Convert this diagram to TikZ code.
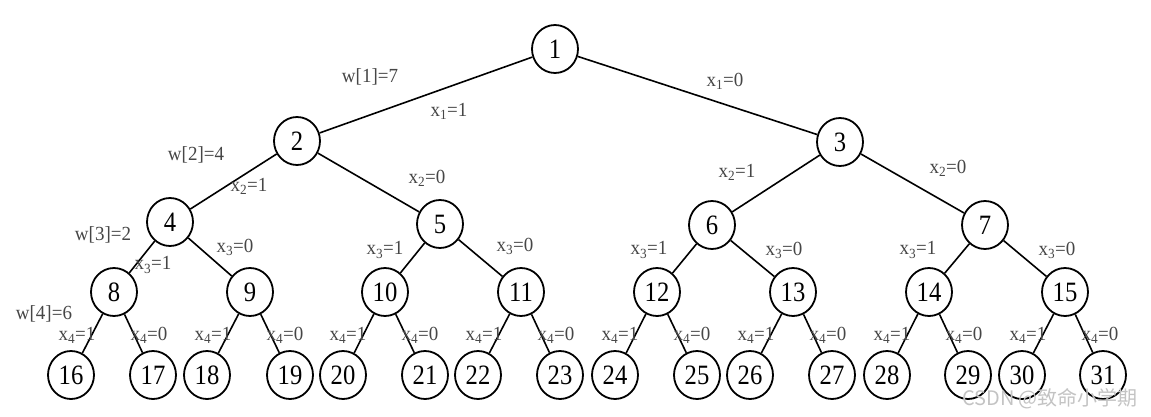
\documentclass[tikz,border=0pt]{standalone}
\usepackage{fontspec}
\usetikzlibrary{shapes.geometric}
\setmainfont{Liberation Serif}
\newfontfamily\numfont[FakeStretch=0.88]{Liberation Serif}
\newfontfamily\labfont[FakeStretch=0.95]{Liberation Serif}
\newfontfamily\cjkfont{Noto Sans CJK SC}
\definecolor{labgray}{RGB}{70,70,70}
\definecolor{wmgray}{RGB}{195,195,195}
\tikzset{
  tn/.style={ellipse, draw, line width=1.8pt, minimum width=46pt, minimum height=48pt, inner sep=0pt,
    font=\numfont\fontsize{28}{28}\selectfont},
  lab/.style={inner sep=0pt, text=labgray, font=\labfont\fontsize{20}{20}\selectfont},
  edge/.style={line width=1.6pt},
}
\newcommand{\xs}[2]{x\textsubscript{#1}=#2}
\begin{document}
\begin{tikzpicture}[x=1pt,y=-1pt]
\useasboundingbox (0,0) rectangle (1151,417);
% nodes
\node[tn] (n1) at (555,49) {1};
\node[tn] (n2) at (297,141) {2};
\node[tn] (n3) at (840,142) {3};
\node[tn] (n4) at (170,222) {4};
\node[tn] (n5) at (440,224) {5};
\node[tn] (n6) at (712,225) {6};
\node[tn] (n7) at (985,225) {7};
\node[tn] (n8) at (114,292) {8};
\node[tn] (n9) at (250,292) {9};
\node[tn] (n10) at (385,292) {10};
\node[tn] (n11) at (521,292) {11};
\node[tn] (n12) at (657,292) {12};
\node[tn] (n13) at (793,292) {13};
\node[tn] (n14) at (929,292) {14};
\node[tn] (n15) at (1065,292) {15};
\node[tn] (n16) at (71,375) {16};
\node[tn] (n17) at (153,375) {17};
\node[tn] (n18) at (207,375) {18};
\node[tn] (n19) at (290,375) {19};
\node[tn] (n20) at (343,375) {20};
\node[tn] (n21) at (425,375) {21};
\node[tn] (n22) at (478,375) {22};
\node[tn] (n23) at (560,375) {23};
\node[tn] (n24) at (615,375) {24};
\node[tn] (n25) at (697,375) {25};
\node[tn] (n26) at (750,375) {26};
\node[tn] (n27) at (832,375) {27};
\node[tn] (n28) at (887,375) {28};
\node[tn] (n29) at (968,375) {29};
\node[tn] (n30) at (1022,375) {30};
\node[tn] (n31) at (1103,375) {31};
% edges
\draw[edge] (n1) -- (n2);
\draw[edge] (n1) -- (n3);
\draw[edge] (n2) -- (n4);
\draw[edge] (n2) -- (n5);
\draw[edge] (n3) -- (n6);
\draw[edge] (n3) -- (n7);
\draw[edge] (n4) -- (n8);
\draw[edge] (n4) -- (n9);
\draw[edge] (n5) -- (n10);
\draw[edge] (n5) -- (n11);
\draw[edge] (n6) -- (n12);
\draw[edge] (n6) -- (n13);
\draw[edge] (n7) -- (n14);
\draw[edge] (n7) -- (n15);
\draw[edge] (n8) -- (n16);
\draw[edge] (n8) -- (n17);
\draw[edge] (n9) -- (n18);
\draw[edge] (n9) -- (n19);
\draw[edge] (n10) -- (n20);
\draw[edge] (n10) -- (n21);
\draw[edge] (n11) -- (n22);
\draw[edge] (n11) -- (n23);
\draw[edge] (n12) -- (n24);
\draw[edge] (n12) -- (n25);
\draw[edge] (n13) -- (n26);
\draw[edge] (n13) -- (n27);
\draw[edge] (n14) -- (n28);
\draw[edge] (n14) -- (n29);
\draw[edge] (n15) -- (n30);
\draw[edge] (n15) -- (n31);
% weight labels
\node[lab] (w1) at (370,77) {w[1]=7};
\node[lab] (w2) at (196,155) {w[2]=4};
\node[lab] (w3) at (103,235) {w[3]=2};
\node[lab] (w4) at (44,314) {w[4]=6};
% level 1 labels
\node[lab] (a1) at (449,111) {\xs{1}{1}};
\node[lab] (a0) at (725,81) {\xs{1}{0}};
% level 2 labels
\node[lab] (b21) at (249,186) {\xs{2}{1}};
\node[lab] (b20) at (427,178) {\xs{2}{0}};
\node[lab] (b31) at (737,172) {\xs{2}{1}};
\node[lab] (b30) at (948,168) {\xs{2}{0}};
% level 3 labels
\node[lab] (c41) at (153,265) {\xs{3}{1}};
\node[lab] (c40) at (235,247) {\xs{3}{0}};
\node[lab] (c51) at (385,250) {\xs{3}{1}};
\node[lab] (c50) at (515,246) {\xs{3}{0}};
\node[lab] (c61) at (649,250) {\xs{3}{1}};
\node[lab] (c60) at (784,250) {\xs{3}{0}};
\node[lab] (c71) at (918,250) {\xs{3}{1}};
\node[lab] (c70) at (1057,250) {\xs{3}{0}};
% level 4 labels
\foreach \c/\n in {114/8,250/9,385/10,521/11,657/12,793/13,929/14,1065/15}{
  \node[lab] (d\n a) at (\c-37,335) {\xs{4}{1}};
  \node[lab] (d\n b) at (\c+35,335) {\xs{4}{0}};
}
% watermark
\node[inner sep=0pt, text=wmgray, font=\cjkfont\fontsize{20}{20}\selectfont] (wm) at (1050,399) {CSDN @致命小学期};
\end{tikzpicture}
\end{document}
